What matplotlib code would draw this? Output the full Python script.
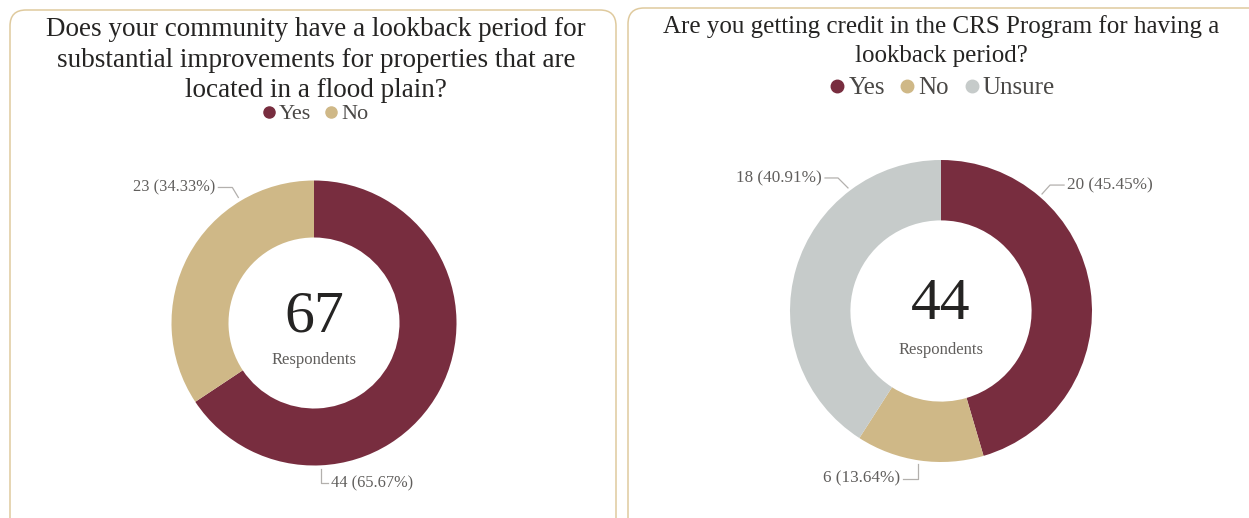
import matplotlib.pyplot as plt
from matplotlib.patches import FancyBboxPatch
from matplotlib.lines import Line2D

plt.rcParams['font.family'] = ['Liberation Serif', 'DejaVu Serif']

# survey answers
q1_title = "Does your community have a lookback period for\nsubstantial improvements for properties that are\nlocated in a flood plain?"
q1_labels = ["Yes", "No"]
q1_counts = [44, 23]

q2_title = "Are you getting credit in the CRS Program for having a\nlookback period?"
q2_labels = ["Yes", "No", "Unsure"]
q2_counts = [20, 6, 18]

colors = {"Yes": "#782D3F", "No": "#CFB887", "Unsure": "#C6CBCA"}

TITLE_C = "#252423"
LABEL_C = "#605E5C"
LEADER_C = "#B3B0AD"
BORDER_C = "#DFCA9E"

W, H = 1249, 518
fig = plt.figure(figsize=(W / 100, H / 100), dpi=100)

# background axes in pixel units for the card frames and titles
bg = fig.add_axes([0, 0, 1, 1])
bg.set_xlim(0, W)
bg.set_ylim(H, 0)
bg.axis('off')

for x0, y0, x1, y1 in [(10, 10, 616, 560), (628, 8, 1300, 560)]:
    bg.add_patch(FancyBboxPatch((x0, y0), x1 - x0, y1 - y0,
                                boxstyle="round,pad=0,rounding_size=16",
                                fc='white', ec=BORDER_C, lw=1.1))


def donut(cx, cy, r, counts, labels, label_pos, lsize):
    L = 1.35
    side = 2 * L * r
    ax = fig.add_axes([(cx - side / 2) / W, (H - cy - side / 2) / H, side / W, side / H])
    total = sum(counts)
    ax.pie(counts, colors=[colors[l] for l in labels], startangle=90,
           counterclock=False, radius=1,
           wedgeprops=dict(width=0.4, edgecolor='none'))
    ax.set_xlim(-L, L)
    ax.set_ylim(-L, L)
    ax.set_aspect('equal')
    ax.axis('off')

    # leader lines with value labels
    for v, (pts, ha) in zip(counts, label_pos):
        xs, ys = zip(*pts)
        ax.add_line(Line2D(xs, ys, color=LEADER_C, lw=0.9))
        tx = pts[-1][0] + (-0.02 if ha == 'right' else 0.02)
        ax.text(tx, pts[-1][1], f"{v} ({v / total * 100:.2f}%)", ha=ha, va='center',
                fontsize=lsize, color=LABEL_C)

    ax.text(0, 0.04, str(total), ha='center', va='center', fontsize=43, color=TITLE_C)
    ax.text(0, -0.26, "Respondents", ha='center', va='center', fontsize=12, color=LABEL_C)
    return ax


# left card
bg.text(316, 17, q1_title, ha='center', va='top', fontsize=19.5, color=TITLE_C,
        linespacing=1.3)
donut(314, 323, 142.5, q1_counts, q1_labels,
      [([(0.049, -1.028), (0.049, -1.126), (0.098, -1.126)], 'left'),
       ([(-0.531, 0.881), (-0.573, 0.951), (-0.671, 0.951)], 'right')], 11.8)

# right card
bg.text(941, 15, q2_title, ha='center', va='top', fontsize=18, color=TITLE_C,
        linespacing=1.42)
donut(941, 311, 151, q2_counts, q2_labels,
      [([(0.669, 0.775), (0.722, 0.834), (0.815, 0.834)], 'left'),
       ([(-0.152, -1.013), (-0.152, -1.110), (-0.252, -1.110)], 'right'),
       ([(-0.616, 0.815), (-0.682, 0.881), (-0.768, 0.881)], 'right')], 12.3)


def legend(cx, y, labels, size):
    handles = [Line2D([], [], marker='o', ls='none', color=colors[l], markersize=size * 0.5)
               for l in labels]
    fig.legend(handles, labels, loc='center', bbox_to_anchor=(cx / W, 1 - y / H),
               ncol=len(labels), frameon=False, fontsize=size, handletextpad=0.05,
               columnspacing=0.5, handlelength=0.8, labelcolor='#4A4846')


legend(314, 114, q1_labels, 16)
legend(941, 88, q2_labels, 18)

fig.savefig("out.png", dpi=100)
